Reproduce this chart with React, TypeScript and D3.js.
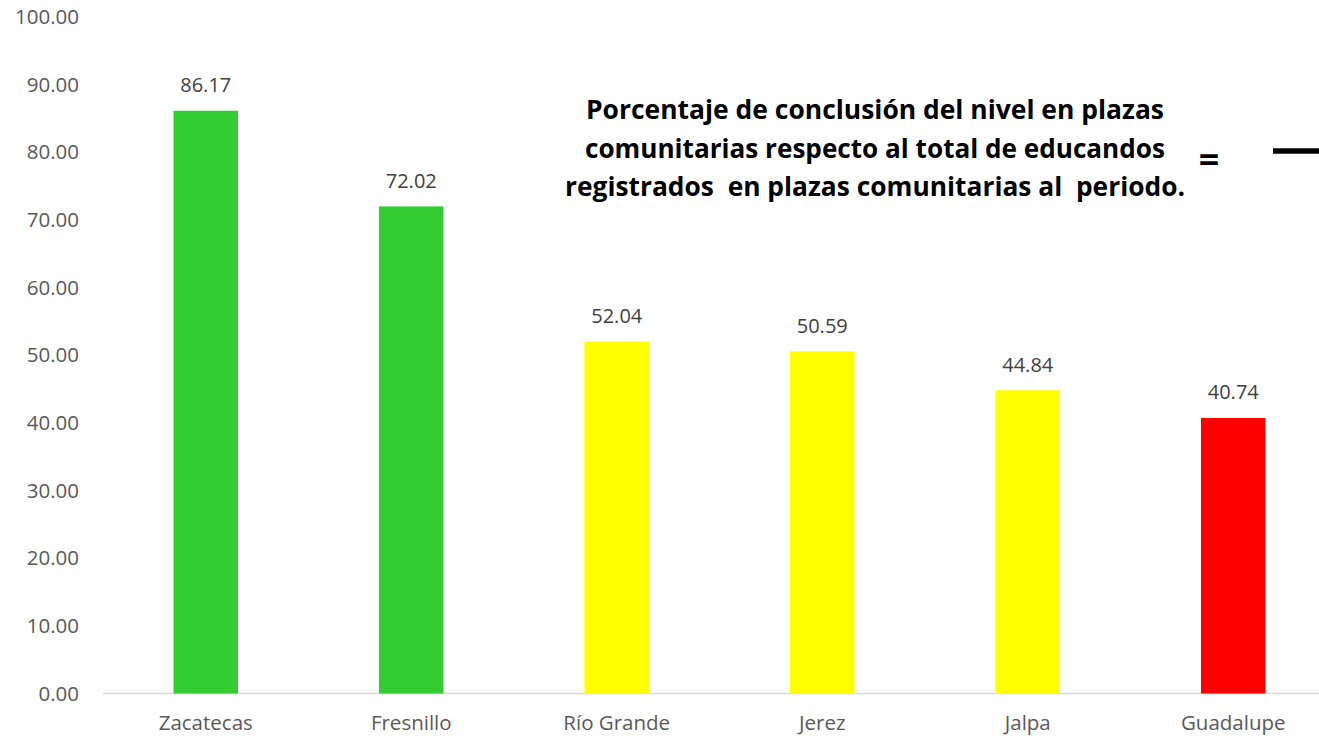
import React from "react";
import * as d3 from "d3";

const categories = ["Zacatecas", "Fresnillo", "Río Grande", "Jerez", "Jalpa", "Guadalupe"];
const values = [86.17, 72.02, 52.04, 50.59, 44.84, 40.74];
const barColors = ["#33CC33", "#33CC33", "#FFFF00", "#FFFF00", "#FFFF00", "#FF0000"];
const yTicks = [0, 10, 20, 30, 40, 50, 60, 70, 80, 90, 100];
const titleLines = [
  "Porcentaje de conclusión del nivel en plazas",
  "comunitarias respecto al total de educandos",
  "registrados  en plazas comunitarias al  periodo.",
];
const titleWidths = [578, 580, 620];

const W = 1319;
const H = 736;
const left = 103;
const step = 205.5;
const baseY = 693.5;
const topY = 17.2;

export default function App() {
  const x = d3
    .scaleBand<string>()
    .domain(categories)
    .range([left, left + step * categories.length])
    .paddingInner(0.686)
    .paddingOuter(0.343);
  const y = d3.scaleLinear().domain([0, 100]).range([baseY, topY]);
  const font = "'Open Sans', sans-serif";

  return (
    <svg
      width={W}
      height={H}
      style={{ position: "absolute", left: 0, top: 0, background: "#fff" }}
    >
      {yTicks.map((t) => (
        <text
          key={t}
          x={79}
          y={y(t) + 7}
          textAnchor="end"
          fontFamily={font}
          fontSize={20.5}
          fill="#595959"
        >
          {d3.format(".2f")(t)}
        </text>
      ))}
      <line x1={left} x2={W} y1={baseY} y2={baseY} stroke="#d9d9d9" strokeWidth={1.5} />
      {categories.map((c, i) => (
        <g key={c}>
          <rect
            x={x(c)!}
            y={y(values[i])}
            width={x.bandwidth()}
            height={baseY - y(values[i])}
            fill={barColors[i]}
          />
          <text
            x={x(c)! + x.bandwidth() / 2}
            y={y(values[i]) - 18.5}
            textAnchor="middle"
            fontFamily={font}
            fontSize={20}
            fill="#404040"
          >
            {d3.format(".2f")(values[i])}
          </text>
          <text
            x={x(c)! + x.bandwidth() / 2}
            y={730}
            textAnchor="middle"
            fontFamily={font}
            fontSize={20.5}
            fill="#595959"
          >
            {c}
          </text>
        </g>
      ))}
      {titleLines.map((l, i) => (
        <text
          key={i}
          x={875}
          y={119 + i * 38.5}
          textAnchor="middle"
          fontFamily={font}
          fontWeight="bold"
          fontSize={27}
          fill="#000"
          textLength={titleWidths[i]}
          lengthAdjust="spacingAndGlyphs"
          style={{ whiteSpace: "pre" }}
        >
          {l}
        </text>
      ))}
      <text x={1209} y={172} textAnchor="middle" fontFamily={font} fontWeight="bold" fontSize={36} fill="#000">
        =
      </text>
      <line x1={1273} x2={W} y1={151} y2={151} stroke="#000" strokeWidth={5.5} />
    </svg>
  );
}
